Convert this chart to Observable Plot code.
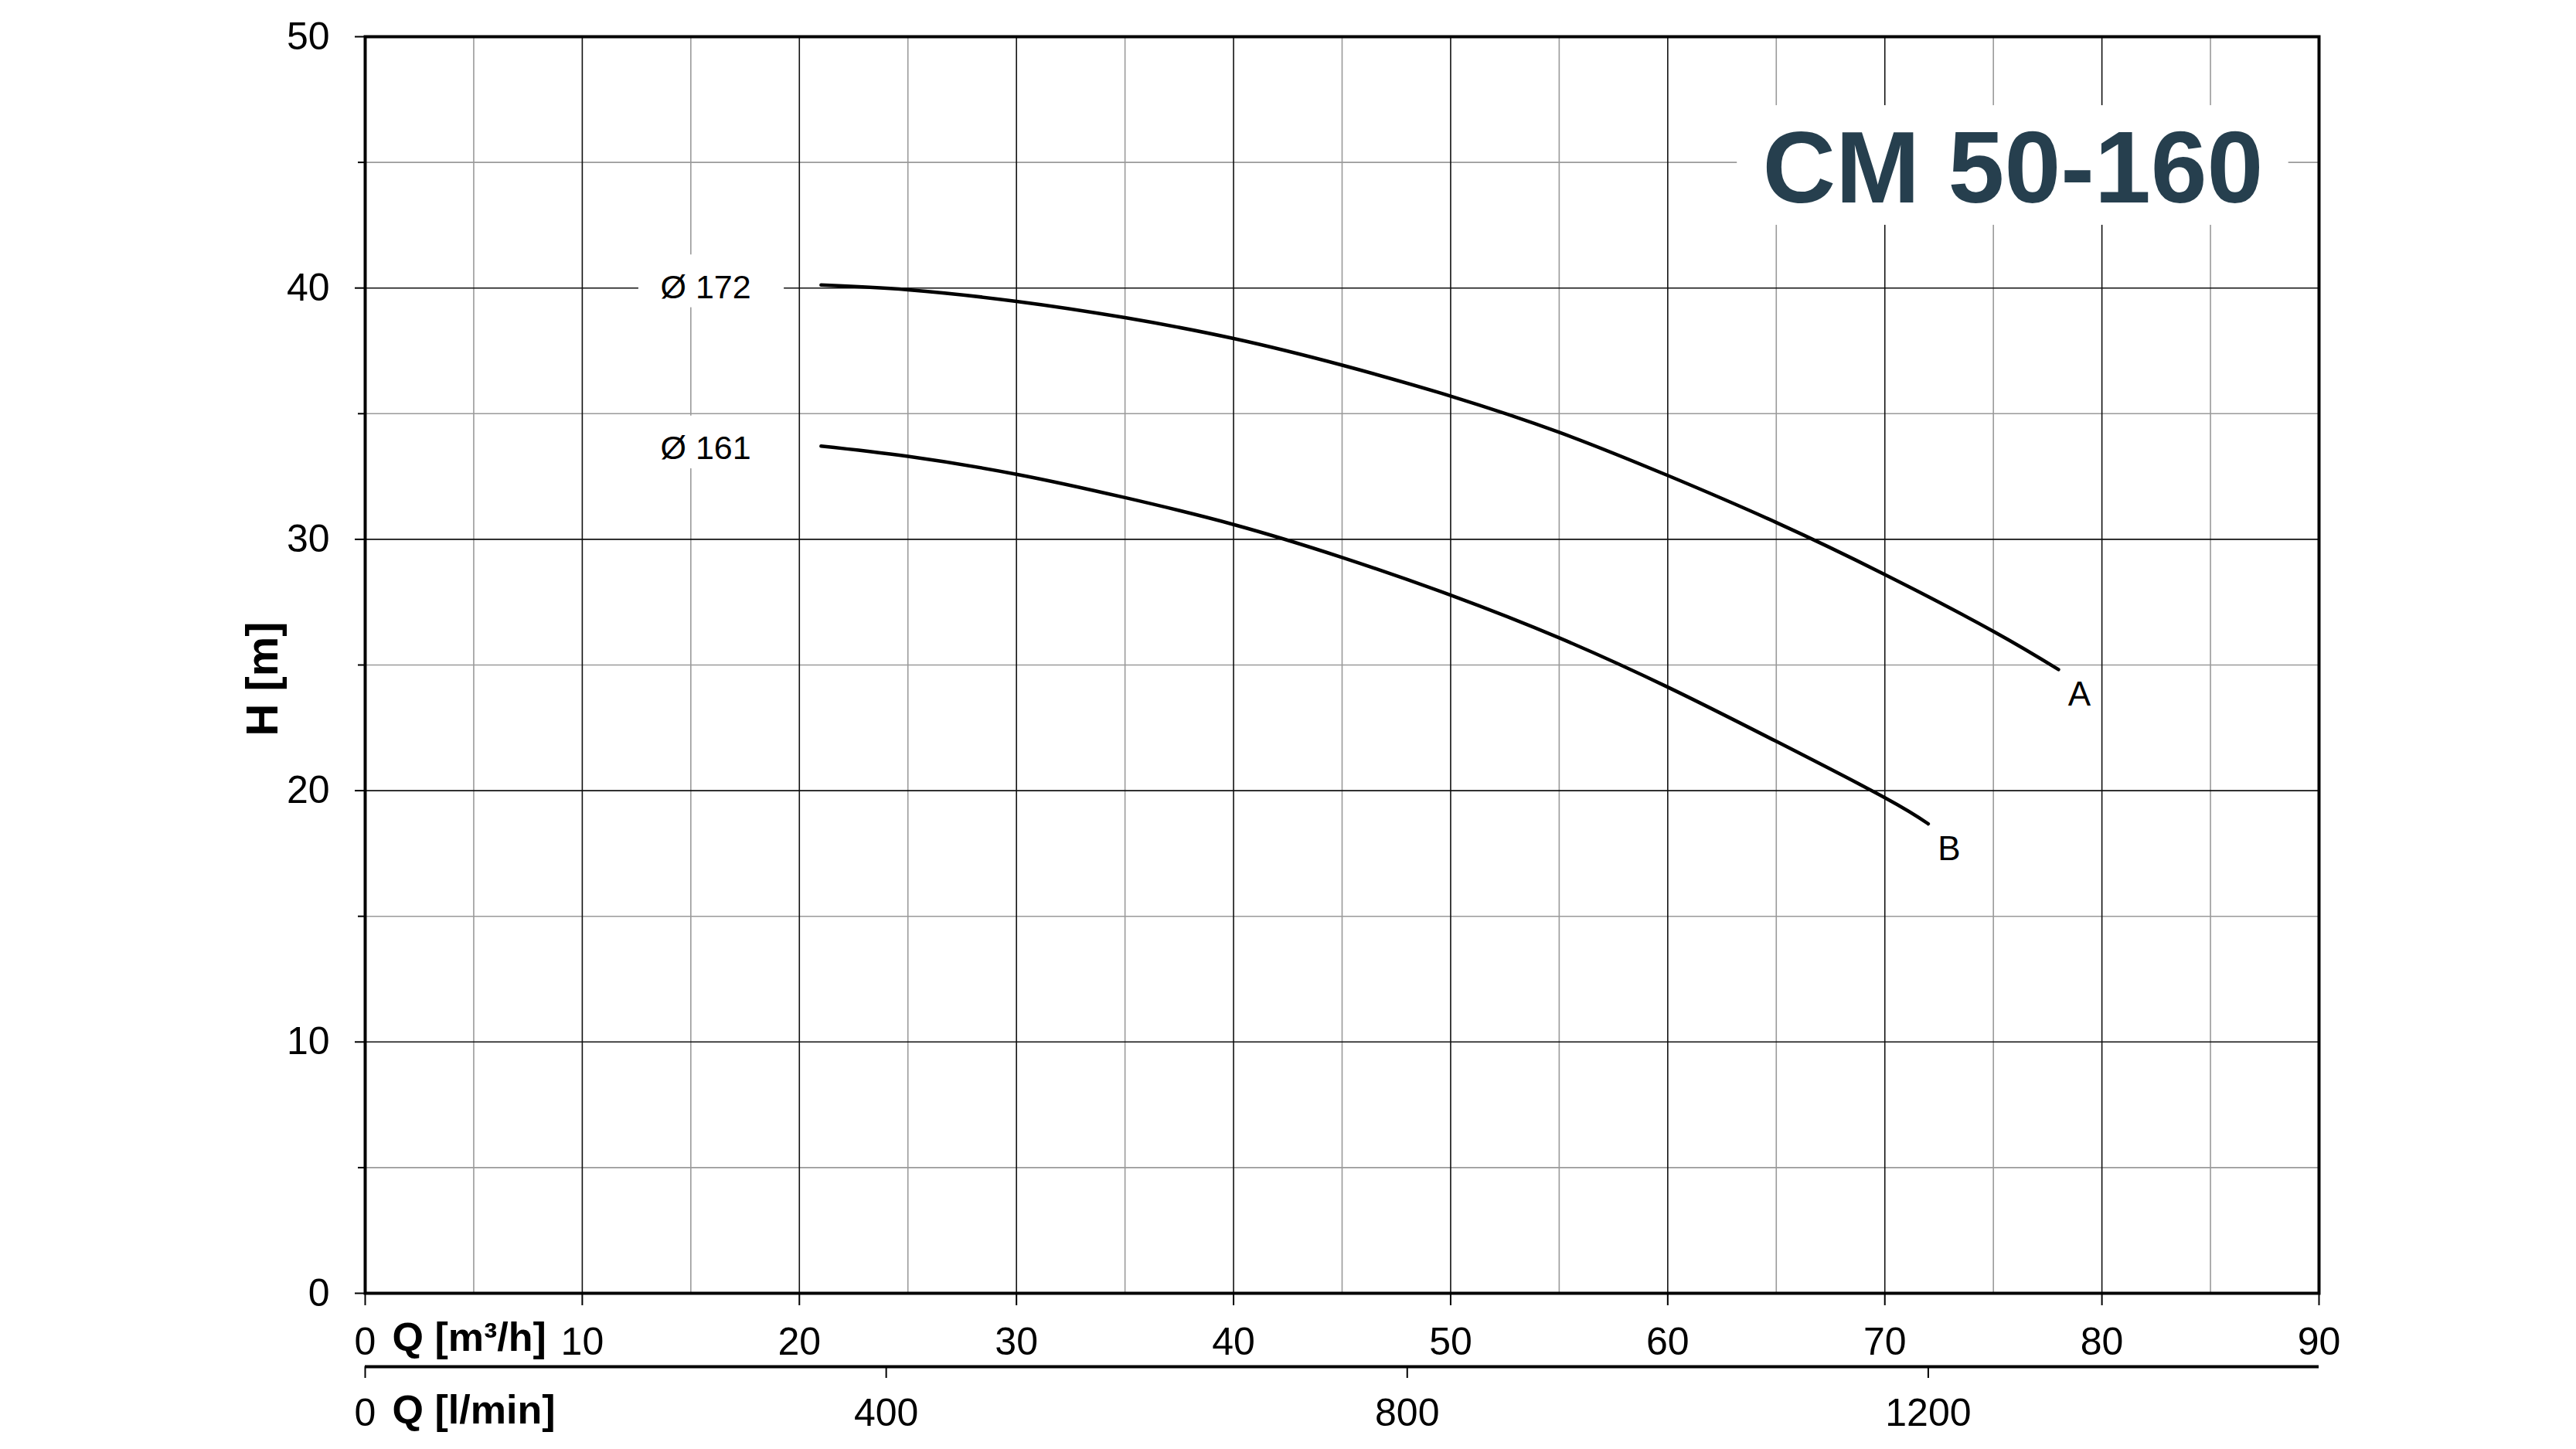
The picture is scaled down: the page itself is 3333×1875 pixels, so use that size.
<!DOCTYPE html>
<html>
<head>
<meta charset="utf-8">
<script src="https://cdn.jsdelivr.net/npm/d3@7"></script>
<script src="https://cdn.jsdelivr.net/npm/@observablehq/plot@0.6"></script>
<style>
  html, body { margin: 0; padding: 0; background: #fff; }
  #chart svg { display: block; overflow: visible; }
</style>
</head>
<body>
<div id="chart"></div>
<script>
// ---- data ----
const title = "CM 50-160";
const curveNames = ["A", "B"];
const diameterLabels = ["Ø 172", "Ø 161"];

const qA = [21, 25, 30, 35, 40, 45, 50, 55, 60, 65, 70, 75, 78];
const hA = [40.12, 39.93, 39.47, 38.82, 37.99, 36.93, 35.70, 34.26, 32.54, 30.67, 28.60, 26.34, 24.82];

const qB = [21, 25, 30, 35, 40, 45, 50, 55, 60, 65, 70, 72];
const hB = [33.71, 33.30, 32.59, 31.66, 30.59, 29.28, 27.78, 26.08, 24.12, 21.96, 19.72, 18.68];

const xDomain = [0, 90];
const yDomain = [0, 50];
const xMajor = [0, 10, 20, 30, 40, 50, 60, 70, 80, 90];
const xMinor = [5, 15, 25, 35, 45, 55, 65, 75, 85];
const yMajor = [0, 10, 20, 30, 40, 50];
const yMinor = [5, 15, 25, 35, 45];
const lminTicks = [0, 400, 800, 1200];
const xUnitLabel = "Q [m³/h]";
const lminUnitLabel = "Q [l/min]";
const yUnitLabel = "H [m]";

// tables built from the arrays
const rowsA = qA.map((q, i) => ({q, h: hA[i], curve: curveNames[0]}));
const rowsB = qB.map((q, i) => ({q, h: hB[i], curve: curveNames[1]}));
const curves = [rowsA, rowsB];
const ends = curves.map(r => r[r.length - 1]);
const starts = curves.map(r => r[0]);
const diam = diameterLabels.map((t, i) => ({text: t, h: starts[i].h}));
const m3hFromLmin = v => v * 60 / 1000;

const FONT = "'Liberation Sans', Arial, Helvetica, sans-serif";
const titleQ = 75.9, titleH = 44.7;
const diamQ = 13.6;

const chart = Plot.plot({
  width: 3333,
  height: 1875,
  marginLeft: 472,
  marginRight: 333,
  marginTop: 47,
  marginBottom: 202,
  style: {fontFamily: FONT, background: "white", color: "black", overflow: "visible"},
  x: {domain: xDomain, axis: null},
  y: {domain: yDomain, axis: null},
  marks: [
    // grid
    Plot.ruleX(xMinor, {x: d => d, stroke: "#9a9a9a", strokeWidth: 1.6}),
    Plot.ruleY(yMinor, {y: d => d, stroke: "#9a9a9a", strokeWidth: 1.6}),
    Plot.ruleX(xMajor.slice(1, -1), {x: d => d, stroke: "#111", strokeWidth: 1.6}),
    Plot.ruleY(yMajor.slice(1, -1), {y: d => d, stroke: "#111", strokeWidth: 1.6}),

    // white label backgrounds
    Plot.rect(diam, {x1: () => diamQ - 1.0, x2: () => diamQ + 5.7, y1: d => d.h - 0.9, y2: d => d.h + 1.2, fill: "white"}),
    Plot.rect([title], {x1: () => titleQ - 12.7, x2: () => titleQ + 12.7, y1: () => titleH - 2.2, y2: () => titleH + 2.56, fill: "white"}),

    // curves
    Plot.line(rowsA, {x: "q", y: "h", curve: "natural", stroke: "black", strokeWidth: 4.5, strokeLinecap: "round"}),
    Plot.line(rowsB, {x: "q", y: "h", curve: "natural", stroke: "black", strokeWidth: 4.5, strokeLinecap: "round"}),

    // frame
    Plot.frame({stroke: "black", strokeWidth: 4}),

    // y ticks
    Plot.ruleY(yMajor, {y: d => d, x1: () => 0, x2: () => 0, insetLeft: -13, stroke: "black", strokeWidth: 2}),
    Plot.ruleY(yMinor, {y: d => d, x1: () => 0, x2: () => 0, insetLeft: -9, stroke: "black", strokeWidth: 2}),
    // x ticks
    Plot.ruleX(xMajor, {x: d => d, y1: () => 0, y2: () => 0, insetBottom: -16, stroke: "black", strokeWidth: 2}),

    // second (l/min) axis
    Plot.ruleY([0], {x1: () => xDomain[0], x2: () => xDomain[1], dy: 95, stroke: "black", strokeWidth: 4}),
    Plot.ruleX(lminTicks, {x: d => m3hFromLmin(d), y1: () => 0, y2: () => 0, insetBottom: -15, dy: 95, stroke: "black", strokeWidth: 2}),

    // tick labels
    Plot.text(yMajor, {frameAnchor: "left", y: d => d, text: d => String(d), dx: -46, textAnchor: "end", lineAnchor: "middle", fontSize: 50, fill: "black"}),
    Plot.text(xMajor, {frameAnchor: "bottom", x: d => d, text: d => String(d), dy: 63, textAnchor: "middle", lineAnchor: "middle", fontSize: 50, fill: "black"}),
    Plot.text(lminTicks, {frameAnchor: "bottom", x: d => m3hFromLmin(d), text: d => String(d), dy: 155, textAnchor: "middle", lineAnchor: "middle", fontSize: 50, fill: "black"}),

    // axis titles
    Plot.text([xUnitLabel], {frameAnchor: "bottom", x: () => 1.25, text: d => d, dy: 58, textAnchor: "start", lineAnchor: "middle", fontSize: 52, fontWeight: "bold", fill: "black"}),
    Plot.text([lminUnitLabel], {frameAnchor: "bottom", x: () => 1.25, text: d => d, dy: 152, textAnchor: "start", lineAnchor: "middle", fontSize: 52, fontWeight: "bold", fill: "black"}),
    Plot.text([yUnitLabel], {frameAnchor: "left", text: d => d, dx: -132, dy: 18, rotate: -90, textAnchor: "middle", lineAnchor: "middle", fontSize: 58, fontWeight: "bold", fill: "black"}),

    // curve labels
    Plot.text(diam, {x: () => diamQ, y: "h", text: "text", textAnchor: "start", lineAnchor: "middle", dy: 3, fontSize: 43, fill: "black"}),
    Plot.text(ends, {x: "q", y: "h", text: "curve", dx: 27, dy: 33, textAnchor: "middle", lineAnchor: "middle", fontSize: 44, fill: "black"}),

    // title
    Plot.text([title], {x: () => titleQ, y: () => titleH, text: d => d, textAnchor: "middle", lineAnchor: "middle", fontSize: 131, fontWeight: "bold", fill: "#263f4e"})
  ]
});
document.getElementById("chart").appendChild(chart);
</script>
</body>
</html>
